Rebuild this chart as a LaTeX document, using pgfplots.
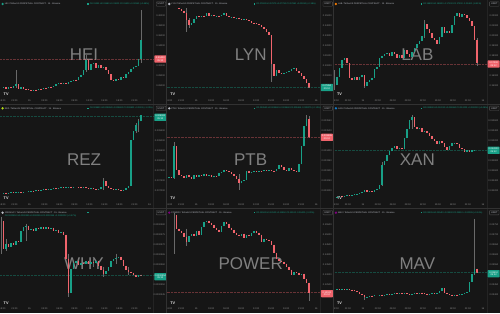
\documentclass[border=0pt]{standalone}
\usepackage{pgfplots}
\usepackage{pgfplotstable}
\pgfplotsset{compat=1.18}
\usepackage{fontspec}
\setmainfont{Liberation Sans}
\definecolor{bgc}{RGB}{22,22,22}
\definecolor{sepc}{RGB}{50,50,50}
\definecolor{upc}{RGB}{24,160,135}
\definecolor{dnc}{RGB}{240,100,108}
\definecolor{wkc}{RGB}{105,105,105}
\definecolor{wmc}{RGB}{128,128,128}
\definecolor{txc}{RGB}{185,188,196}
\definecolor{axc}{RGB}{140,140,140}
\definecolor{scl}{RGB}{36,36,36}
\newcommand\tk{\fontsize{2.4}{2.8}\selectfont}
\newcommand\hd{\fontsize{2.2}{2.6}\selectfont}

% closes of each series (screen rows inside a panel), 15-min candles
\pgfplotstableread[row sep=\\]{c\\88\\87\\88.5\\87\\88\\86\\84\\88.5\\87\\88.5\\89\\90\\90.5\\89.5\\90\\88.5\\89\\87.5\\88\\86.5\\87\\85.5\\84\\82.5\\84\\83\\84\\82\\81\\79.5\\80\\77\\75\\70\\60\\70\\64\\63\\68\\65\\68\\67\\70\\74\\80\\81\\79\\80\\77\\77.5\\74\\72\\69\\67\\66\\59\\40\\}\tHEI
\pgfplotstableread[row sep=\\]{c\\8\\9\\10.5\\13\\20\\25\\23\\19\\16\\17\\15.5\\16\\13\\16\\15\\16\\15.5\\16\\14.5\\13\\16\\17\\16.5\\18\\17.5\\18.5\\19\\18.5\\20\\21\\22.5\\23\\23.5\\25\\27\\29\\32\\35\\64\\76\\70\\73\\74\\72.5\\72\\71\\69\\68\\71\\73\\76\\79\\83\\88\\}\tLYN
\pgfplotstableread[row sep=\\]{c\\85\\77\\68\\60\\58\\63\\78\\80\\77\\80\\77\\75\\86\\82\\80\\78\\69\\67\\58\\56\\54\\53\\56\\52\\54\\58\\55\\58\\50\\54\\57\\52\\48\\44\\41\\36\\24\\29\\33\\38\\40\\44\\37\\27\\33\\31\\33\\25\\16\\13\\17\\14\\15\\18\\21\\26\\40\\63\\}\tLAB
\pgfplotstableread[row sep=\\]{c\\89\\88.5\\89\\88.5\\88\\88.5\\88\\87.5\\88\\87.5\\87.5\\87\\86.5\\87\\86\\86.5\\86\\85\\85.5\\85\\84.5\\84\\84.5\\83.5\\83\\83.5\\83\\82.5\\83\\82.5\\82.5\\83\\83.5\\83\\84\\84.5\\84\\85\\85.5\\85\\83\\77\\82\\84\\84.5\\85\\84.5\\85.5\\86\\85.5\\84\\82\\36\\27\\21\\17\\11\\}\tREZ
\pgfplotstableread[row sep=\\]{c\\74\\73\\74\\42\\66\\71\\72\\74\\71\\73\\75\\71\\72.5\\70.5\\72\\70\\71.5\\71\\73\\71.5\\72\\69\\68\\66\\67\\68\\70\\72\\75\\79\\77\\76\\67\\69\\68\\67\\67.5\\66.5\\67\\66\\67\\66\\66.5\\67\\65\\61\\63\\66\\67\\64\\66\\67\\68\\60\\42\\22\\15\\33\\}\tPTB
\pgfplotstableread[row sep=\\]{c\\93\\92.5\\92\\92.5\\91.5\\91\\91.5\\90.5\\90\\89.5\\89\\88\\86\\88\\87\\87.5\\86\\85\\81\\61\\57\\51\\47\\44\\42\\45\\44\\45\\34\\25\\16\\13\\23\\25\\24\\28\\27\\29\\32\\35\\37\\40\\37\\39\\43\\46\\42\\39\\38.5\\40\\44\\45\\48\\46\\47.5\\46\\45.5\\}\tXAN
\pgfplotstableread[row sep=\\]{c\\12\\40\\35\\38\\34\\36\\32\\33\\22\\18\\17\\21\\20\\22\\19\\20\\18.5\\20\\18.5\\20\\19\\22\\21\\24\\23\\26\\50\\84\\60\\54\\52\\56\\54\\55\\52\\55\\53\\54\\52\\57\\61\\65\\62\\58\\52\\50\\49\\48\\51\\57\\61\\63\\64\\66\\68\\66\\67\\}\tWHY
\pgfplotstableread[row sep=\\]{c\\6\\20\\22\\24\\28\\33\\27\\25\\27\\22\\26\\18\\13\\12\\14\\16\\19\\21\\23\\17\\13\\15\\19\\21\\24\\26\\27\\25\\29\\26\\27\\24\\22\\24\\26\\33\\30\\31\\32\\36\\44\\50\\52\\53\\55\\58\\61\\66\\63\\64\\66\\65\\70\\74\\84\\}\tPOW
\pgfplotstableread[row sep=\\]{c\\81\\80.5\\81.5\\80.5\\81\\80.5\\81\\81.5\\82\\83.5\\85\\86.5\\88.5\\88\\87\\87.5\\86.5\\86.5\\86\\87\\86\\85\\85.5\\85\\84.5\\85\\84.5\\85\\84.5\\85\\85.5\\85\\84.5\\85\\84\\84.5\\85\\85.5\\85\\84.5\\85\\84\\82\\79.5\\84\\85.5\\86\\86.5\\86\\86.5\\85.5\\85\\84\\83\\73\\65\\60\\64\\}\tMAV

\newcommand\prep[2]{%
  \pgfplotstablecreatecol[create col/expr accum={\pgfmathaccuma+2.5}{#2-2.5}]{x}{#1}%
  \pgfplotstablecreatecol[create col/assign/.code={%
      \ifnum\pgfplotstablerow=0\relax\getthisrow{c}\entry\else\getprevrow{c}\entry\fi
      \pgfkeyslet{/pgfplots/table/create col/next content}\entry}]{o}{#1}%
}
\prep\tHEI{1}\prep\tLYN{10}\prep\tLAB{1}\prep\tREZ{1}\prep\tPTB{0}
\prep\tXAN{1}\prep\tWHY{1}\prep\tPOW{7.5}\prep\tMAV{1}

\newcommand\candles[1]{%
  \addplot[upc, line width=1.6pt, quiver={u=0, v=\thisrow{c}-\thisrow{o}}]
    table[x=x, y expr={\thisrow{c}<\thisrow{o} ? \thisrow{o} : nan}] {#1};
  \addplot[dnc, line width=1.6pt, quiver={u=0, v=\thisrow{c}-\thisrow{o}}]
    table[x=x, y expr={\thisrow{c}>\thisrow{o} ? \thisrow{o} : nan}] {#1};
}
\newcommand\wicks[1]{%
  \addplot[wkc, line width=0.45pt, quiver={u=0, v=\thisrow{b}-\thisrow{a}}]
    table[x=x, y=a, row sep=\\] {#1};
}
\newcommand\pline[2]{\draw[#2, opacity=0.38, line width=0.4pt, dash pattern=on 0.6pt off 0.8pt] (axis cs:0,#1) -- (axis cs:153.5,#1);}

\pgfplotsset{
  panel/.style={scale only axis, width=166.67pt, height=104.33pt, anchor=north west,
    xmin=0, xmax=166.67, ymin=0, ymax=104.33, y dir=reverse,
    axis line style={draw=none}, major tick length=0pt, tick style={draw=none},
    xtick={2.5,14.5,29.5,44.5,59.5,74.5,89.5,104.5,119.5,134.5,149.5},
    xticklabels={18:00,21:00,15,03:00,06:00,09:00,12:00,15:00,18:00,21:00,16},
    xticklabel style={font=\tk, text=axc, anchor=base, inner sep=0pt, yshift=3.3pt},
    yticklabel pos=right,
    yticklabel style={font=\tk, text=axc, anchor=east, inner sep=0pt, xshift=-1.5pt},
  }
}

\newcommand\bgp[3]{%
  \begin{scope}[shift={(#1pt,#2pt)}, x=1pt, y=-1pt]
    \draw[scl, line width=0.4pt] (153.5,0) -- (153.5,104.33);
    \node[font=\fontsize{17}{17}\selectfont, text=wmc, inner sep=0pt] at (84,55) {#3};
  \end{scope}}

\newcommand\fg[9]{%
  \begin{scope}[shift={(#1pt,#2pt)}, x=1pt, y=-1pt]
    \fill[#3] (2.6,4) circle (1.3pt);
    \node[font=\hd, text=txc, anchor=west, inner sep=0pt] at (4.6,4) {#4};
    \fill[upc] (87.2,3.3) rectangle (88.6,4.7);
    \node[font=\hd, text=upc, anchor=west, inner sep=0pt] at (89.6,4) {#5};
    \draw[axc!60!black, line width=0.3pt, rounded corners=0.5pt, fill=bgc] (156.3,1.8) rectangle (165.7,6.2);
    \node[font=\tk, text=txc, inner sep=0pt] at (161,4) {USDT};
    \fill[#7, rounded corners=0.6pt] (154.3,#6-3.6) rectangle (166.4,#6+3.6);
    \node[font=\tk, text=white, inner sep=0pt, align=center] at (160.3,#6) {#8\\#9};
    \node[font=\fontsize{3.8}{4}\selectfont\bfseries, text=white!88!black, inner sep=0pt, anchor=west] at (3.5,94.3) {TV};
  \end{scope}}

\begin{document}
\begin{tikzpicture}
\useasboundingbox (0,0) rectangle (500pt,-313pt);
\fill[bgc] (0,0) rectangle (500pt,-313pt);
\bgp{0}{0}{HEI}\bgp{166.67}{0}{LYN}\bgp{333.33}{0}{LAB}
\bgp{0}{-104.33}{REZ}\bgp{166.67}{-104.33}{PTB}\bgp{333.33}{-104.33}{XAN}
\bgp{0}{-208.67}{WHY}\bgp{166.67}{-208.67}{POWER}\bgp{333.33}{-208.67}{MAV}

% ---- row 1
\begin{axis}[panel, at={(0pt,0pt)}, ytick={16,26,36,46,66,76,86},
  yticklabels={0.40000,0.38000,0.36000,0.34000,0.30000,0.28000,0.26000}]
  \wicks{x a b\\16 70 88\\86 55 72\\141 10 63\\}
  \candles\tHEI
  \pline{59}{dnc}
\end{axis}
\begin{axis}[panel, at={(166.67pt,0pt)}, ytick={16,26,36,46,56,66,76},
  yticklabels={0.15000,0.14000,0.13000,0.12000,0.11000,0.10000,0.09000}]
  \wicks{x a b\\20 8 32\\22.5 18 28\\105 35 82\\}
  \candles\tLYN
  \pline{87.5}{upc}
\end{axis}
\begin{axis}[panel, at={(333.33pt,0pt)}, ytick={16,26,36,46,56,76,86},
  yticklabels={0.22000,0.21000,0.20000,0.19000,0.18000,0.16000,0.15000}]
  \wicks{x a b\\1 70 90\\31 75 88\\91 20 38\\143.5 38 66\\}
  \candles\tLAB
  \pline{64}{dnc}
\end{axis}
% ---- row 2
\begin{axis}[panel, at={(0pt,-104.33pt)}, ytick={26,36,46,56,66,76,86},
  yticklabels={0.009400,0.009000,0.008600,0.008200,0.007800,0.007400,0.007000}]
  \wicks{x a b\\103.5 74 86\\136 19 29\\138.5 15 28\\}
  \candles\tREZ
  \pline{12}{upc}
\end{axis}
\begin{axis}[panel, at={(166.67pt,-104.33pt)}, ytick={16,26,46,56,66,76,86},
  yticklabels={0.003550,0.003500,0.003400,0.003350,0.003300,0.003250,0.003200}]
  \wicks{x a b\\7.5 38 75\\72.5 70 86\\140 11 20\\142.5 12 34\\}
  \candles\tPTB
  \pline{33}{dnc}
\end{axis}
\begin{axis}[panel, at={(333.33pt,-104.33pt)}, ytick={16,26,36,56,66,76,86},
  yticklabels={0.012600,0.012400,0.012200,0.011800,0.011600,0.011400,0.011200}]
  \wicks{x a b\\48.5 58 82\\78.5 11 25\\}
  \candles\tXAN
  \pline{46}{upc}
\end{axis}
% ---- row 3
\begin{axis}[panel, at={(0pt,-208.67pt)}, ytick={16,26,36,46,56,76,86},
  yticklabels={0.0000380,0.0000375,0.0000370,0.0000365,0.0000360,0.0000350,0.0000345}]
  \wicks{x a b\\1 8 45\\6 30 42\\26 15 32\\68.5 45 88\\93.5 48 58\\103.5 58 68\\116 45 55\\128.5 58 66\\}
  \candles\tWHY
  \pline{67}{upc}
\end{axis}
\begin{axis}[panel, at={(166.67pt,-208.67pt)}, ytick={16,26,36,46,56,66,76},
  yticklabels={0.15500,0.15000,0.14500,0.14000,0.13500,0.13000,0.12500}]
  \wicks{x a b\\7.5 4 45\\20 20 37\\142.5 74 92\\}
  \candles\tPOW
  \pline{84}{dnc}
\end{axis}
\begin{axis}[panel, at={(333.33pt,-208.67pt)}, ytick={16,26,36,46,56,76,86},
  yticklabels={0.03750,0.03700,0.03650,0.03600,0.03550,0.03450,0.03400}]
  \wicks{x a b\\31 86 91\\141 10 66\\}
  \candles\tMAV
  \pline{64}{upc}
\end{axis}

% ---- headers and price labels
\fg{0}{0}{upc}{HEI / TetherUS PERPETUAL CONTRACT · 15 · Binance}{O0.31250 H0.31580 L0.31200 C0.31400 +0.00150 (+0.48\%)}{59}{dnc}{0.31400}{05:12}
\fg{166.67}{0}{txc}{LYN / TetherUS PERPETUAL CONTRACT · 15 · Binance}{O0.07820 H0.07870 L0.07790 C0.07850 +0.00030 (+0.38\%)}{87.5}{upc}{0.07850}{05:12}
\fg{333.33}{0}{orange}{LAB / TetherUS PERPETUAL CONTRACT · 15 · Binance}{O0.18800 H0.18900 L0.17100 C0.17200 -0.01600 (-8.51\%)}{64}{dnc}{0.17200}{05:12}
\fg{0}{-104.33}{yellow!70!green}{REZ / TetherUS PERPETUAL CONTRACT · 15 · Binance}{O0.009820 H0.009950 L0.009800 C0.009920 +0.0001 (+1.02\%)}{13}{upc}{0.009920}{05:12}
\fg{166.67}{-104.33}{txc}{PTB / TetherUS PERPETUAL CONTRACT · 15 · Binance}{O0.003540 H0.003560 L0.003460 C0.003465 -0.000075 (-2.12\%)}{33}{dnc}{0.003465}{05:12}
\fg{333.33}{-104.33}{cyan!60!blue}{XAN / TetherUS PERPETUAL CONTRACT · 15 · Binance}{O0.011990 H0.012010 L0.011980 C0.012000 +0.000010 (+0.08\%)}{46}{upc}{0.012000}{05:12}
\fg{0}{-208.67}{txc}{1000WHY / TetherUS PERPETUAL CONTRACT · 15 · Binance}{}{68}{upc}{0.0000354}{05:12}
\fg{166.67}{-208.67}{violet}{POWER / TetherUS PERPETUAL CONTRACT · 15 · Binance}{O0.12500 H0.12520 L0.11950 C0.12100 -0.00400 (-3.20\%)}{85}{dnc}{0.12100}{05:12}
\fg{333.33}{-208.67}{violet}{MAV / TetherUS PERPETUAL CONTRACT · 15 · Binance}{O0.03505 H0.03540 L0.03500 C0.03510 +0.00005 (+0.14\%)}{65}{upc}{0.03510}{05:12}
\node[font=\hd, text=upc, anchor=west, inner sep=0pt] at (4.6pt,-216pt) {O0.0000352 H0.0000355 L0.0000351 C0.0000354 +0.0000002 (+0.57\%)};

% ---- panel separators
\draw[sepc, line width=0.9pt] (166.67pt,0) -- (166.67pt,-313pt) (333.33pt,0) -- (333.33pt,-313pt)
  (0,-104.33pt) -- (500pt,-104.33pt) (0,-208.67pt) -- (500pt,-208.67pt);
\end{tikzpicture}
\end{document}
